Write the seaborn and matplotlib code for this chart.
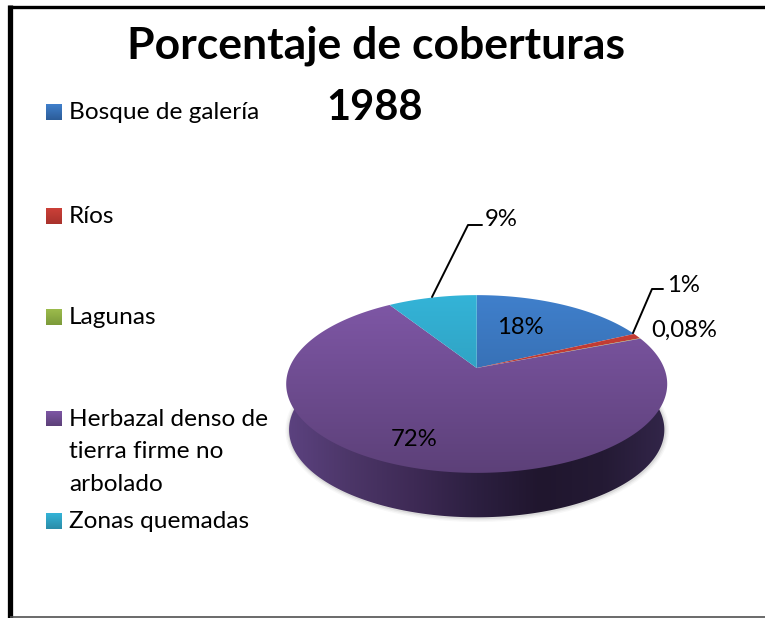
import numpy as np
import seaborn as sns
import matplotlib.pyplot as plt
from matplotlib.colors import LinearSegmentedColormap
from matplotlib.patches import Polygon

# data
categories = ['Bosque de galería', 'Ríos', 'Lagunas',
              'Herbazal denso de\ntierra firme no\narbolado', 'Zonas quemadas']
values = [18, 1, 0.08, 72, 9]
value_labels = ['18%', '1%', '0,08%', '72%', '9%']

# colours top -> bottom of each slice
slice_colors = [('#4080cc', '#2c5c98'), ('#cc4038', '#a8322c'), ('#9cbc4c', '#7c9a3a'),
                ('#8058a8', '#5c4078'), ('#34b4d8', '#2a8ca8')]

sns.set_theme(style='white')
plt.rcParams['font.family'] = ['Lato', 'DejaVu Sans']

fig = plt.figure(figsize=(7.65, 6.18), dpi=100)
ax = fig.add_axes([0, 0, 1, 1])

# let the pie work out the angles, then tip it over in perspective by hand
wedges, _ = ax.pie(values, startangle=90, counterclock=False)
angles = [(w.theta1, w.theta2) for w in wedges]
for w in wedges:
    w.remove()
ax.set_aspect('auto')
ax.set_xlim(0, 765)
ax.set_ylim(618, 0)
ax.axis('off')

# pie geometry in pixels
cx, cy = 476.7, 368
A, B, k = 187.4, 86, 0.18


def project(theta, scale=1.0, drop=0.0):
    u = np.cos(np.radians(theta))
    v = np.sin(np.radians(theta))
    w = 1 + k * v
    return cx + scale * A * u / w, cy - scale * B * v / w + drop


def gradient(clip, extent, colors, horizontal=False, zorder=2):
    cmap = LinearSegmentedColormap.from_list('g', colors)
    ramp = np.linspace(0, 1, 256)
    ramp = ramp.reshape(1, -1) if horizontal else ramp.reshape(-1, 1)
    im = ax.imshow(ramp, cmap=cmap, extent=extent, aspect='auto', zorder=zorder,
                   interpolation='bilinear', origin='upper')
    im.set_clip_path(clip)
    return im


# side wall, from the left extreme round the front to the right extreme
# upper edge sits just inside the top face so no seam shows
th = np.linspace(172, 368, 300)
x1, y1 = project(th, scale=0.985)
x2, y2 = project(th, scale=0.985, drop=46)
wall_pts = np.column_stack([np.r_[x1, x2[::-1]], np.r_[y1, y2[::-1]]])

# soft shadow under the wall
for lw, a in [(6, 0.04), (4, 0.06), (2, 0.1)]:
    ax.plot(x2 + 0.5, y2 + 0.5, color='#404040', lw=lw, alpha=a, zorder=1)

wall = Polygon(wall_pts, closed=True, fc='none', ec='none', transform=ax.transData)
ax.add_patch(wall)
gradient(wall, (286, 668, 520, 380),
         ['#5c4280', '#4c3668', '#3e2a55', '#2c1f40', '#20162e', '#241a34', '#33264a'],
         horizontal=True)

# top face, one polygon per slice
for (t1, t2), cols in zip(angles, slice_colors):
    th = np.linspace(t1, t2, 200)
    xs, ys = project(th)
    pts = np.column_stack([np.r_[cx, xs], np.r_[cy, ys]])
    face = Polygon(pts, closed=True, fc='none', ec='none', transform=ax.transData)
    ax.add_patch(face)
    gradient(face, (280, 672, 475, 293), [cols[0], cols[1]], zorder=3)

# value labels, the 1% and 9% ones on leader lines
label_pos = [(520, 328), (683, 285), (684, 330), (414, 439), (501, 220)]
for txt, (lx, ly) in zip(value_labels, label_pos):
    ax.text(lx, ly, txt, fontsize=17.2, color='black', ha='center', va='center', zorder=5)
ax.plot([432, 468, 482], [297, 225, 225], color='black', lw=1.4, zorder=4)
ax.plot([633, 652, 663], [333, 289, 289], color='black', lw=1.4, zorder=4)

# legend placed by hand, the gaps are not even
legend_y = [112, 216, 317, 418.5, 521]
for name, cols, ly in zip(categories, slice_colors, legend_y):
    box = Polygon([(46, ly - 8), (62, ly - 8), (62, ly + 8), (46, ly + 8)], closed=True,
                  fc='none', ec='none', transform=ax.transData)
    ax.add_patch(box)
    gradient(box, (46, 62, ly + 8, ly - 8), [cols[0], cols[1]], zorder=3)
    ax.text(69, ly - 10, name, fontsize=17.6, color='black', ha='left', va='top',
            linespacing=1.68, zorder=5)

# title
ax.text(376, 46, 'Porcentaje de coberturas', fontsize=32, fontweight='bold',
        color='black', ha='center', va='center', zorder=5)
ax.text(375, 108, '1988', fontsize=30, fontweight='bold',
        color='black', ha='center', va='center', zorder=5)

# outer border
ax.plot([10.5, 10.5], [618, 5], color='black', lw=3.8, solid_capstyle='butt', zorder=6)
ax.plot([8, 765], [6.6, 6.6], color='black', lw=2.4, solid_capstyle='butt', zorder=6)
ax.plot([10, 765], [617.2, 617.2], color='#505050', lw=1.2, solid_capstyle='butt', zorder=6)

ax.set_xlim(0, 765)
ax.set_ylim(618, 0)
fig.savefig('out.png', dpi=100)
